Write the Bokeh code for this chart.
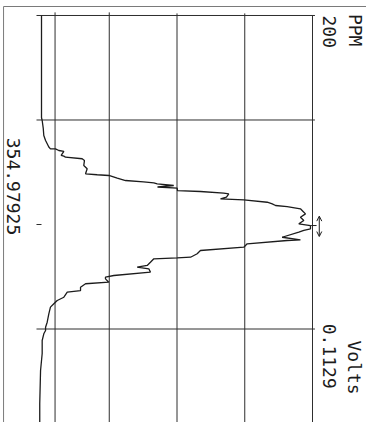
import math
from bokeh.plotting import figure
from bokeh.models import Range1d, Label, Arrow, OpenHead
from bokeh.embed import file_html
from bokeh.resources import INLINE

# ---- data (time in samples running downward, signal in PPM) ----
time_s = [0, 97.6, 100.5, 108.1, 114.8, 119.6, 125.8, 127.6, 127.6, 129.2, 130.1, 133.9,
          134.6, 135.6, 137.1, 138.8, 143.5, 146.7, 151.5, 152.4, 153.1, 155.7, 157.9,
          159.3, 160.1, 161.1, 162.7, 164.1, 165.1, 167.5, 168.4, 170.0, 170.6, 173.9,
          175.4, 176.4, 178.7, 180.2, 181.8, 182.8, 185.0, 188.2, 189.8, 193.0, 196.2,
          199.3, 201.0, 204.1, 205.7, 207.4, 212.2, 214.8, 215.3, 218.5, 221.7, 224.9,
          228.0, 231.3, 231.9, 232.8, 236.1, 239.2, 240.7, 242.4, 245.6, 248.8, 250.4,
          252.0, 255.2, 256.7, 260.0, 263.2, 264.8, 269.6, 272.7, 275.9, 279.1, 285.5,
          293.5, 298.3, 301.4, 304.6, 311.0, 323.4, 339.7, 371.3, 400.0]
signal_ppm = [0, 0, 0.5, 1.3, 1.7, 3.0, 5.4, 6.6, 10.3, 12.8, 16.5, 14.5,
              16.5, 17.7, 30.0, 31.7, 31.2, 33.7, 32.5, 41.1, 49.7, 55.9, 62.0,
              75.3, 82.9, 85.4, 97.6, 85.6, 100.1, 100.4, 117.3, 134.5, 138.2, 136.5,
              132.1, 149.3, 166.6, 170.3, 172.7, 181.3, 191.1, 193.6, 194.8, 191.1, 193.6,
              189.9, 198.5, 198.5, 193.6, 189.9, 177.6, 191.1, 181.3, 151.8, 149.3, 117.3,
              114.9, 110.0, 100.1, 82.9, 80.4, 78.0, 70.6, 79.2, 80.4, 53.4, 47.2,
              47.2, 49.7, 32.5, 28.8, 28.8, 19.0, 16.5, 11.6, 9.1, 6.6, 5.4,
              4.2, 3.0, 3.0, 1.7, 0.5, 0.5, -0.7, -1.3, -1.3]

x_grid_ppm = [10, 50, 100, 150, 200]
y_grid_time = [0, 100, 300, 400]
y_tick_time = [200]
peak_marker_ppm = 205
peak_marker_time = [192, 211.5]
peak_time = 201

label_range = "PPM"
label_range_value = "200"
label_volts = "Volts"
label_volts_value = "0.1129"
label_time = "354.97925"

INK = "#1c1c1c"
GRID = "#2e2e2e"
FRAME = "#7a7a7a"
FONT = "DejaVu Sans Mono"

p = figure(width=366, height=422, output_backend="svg", toolbar_location=None,
           x_range=Range1d(-30.26, 239.85), y_range=Range1d(389.47, -14.35),
           x_axis_type=None, y_axis_type=None, min_border=0)
p.outline_line_color = None
p.background_fill_color = "white"
p.border_fill_color = "white"

# paper frame (left and top edges)
p.segment(x0=[-28.0], y0=[-8.6], x1=[-28.0], y1=[420], line_color=FRAME, line_width=1)
p.segment(x0=[-28.0], y0=[-8.6], x1=[260], y1=[-8.6], line_color=FRAME, line_width=1)

# vertical grid lines
p.segment(x0=x_grid_ppm, y0=[-3, -3, -2, -2, 0], x1=x_grid_ppm, y1=[410] * len(x_grid_ppm),
          line_color=GRID, line_width=1)
# horizontal grid lines
p.segment(x0=[-3.7] * len(y_grid_time), y0=y_grid_time, x1=[201.8] * len(y_grid_time),
          y1=y_grid_time, line_color=GRID, line_width=1)
# short tick at middle
p.segment(x0=[-3.7] * len(y_tick_time), y0=y_tick_time, x1=[0] * len(y_tick_time),
          y1=y_tick_time, line_color=GRID, line_width=1)

# trace
p.line(signal_ppm, time_s, line_color=INK, line_width=1.3)

# peak marker
p.segment(x0=[peak_marker_ppm - 6], y0=[peak_time], x1=[peak_marker_ppm - 2], y1=[peak_time],
          line_color=INK, line_width=1)
p.add_layout(Arrow(x_start=peak_marker_ppm, y_start=peak_marker_time[0],
                   x_end=peak_marker_ppm, y_end=peak_marker_time[1],
                   start=OpenHead(size=5, line_color=INK, line_width=1),
                   end=OpenHead(size=5, line_color=INK, line_width=1),
                   line_color=INK, line_width=1))

def add_label(x, y, text):
    p.add_layout(Label(x=x, y=y, text=text, angle=-math.pi / 2, angle_units="rad",
                       text_font=FONT, text_font_size="18px", text_color=INK,
                       text_align="left", text_baseline="middle"))

add_label(232.0, -1.5, label_range)
add_label(212.5, 0.0, label_range_value)
add_label(231.3, 311.0, label_volts)
add_label(212.5, 295.0, label_volts_value)
add_label(-20.7, 117.0, label_time)

open("out.html", "w").write(file_html(p, INLINE))
